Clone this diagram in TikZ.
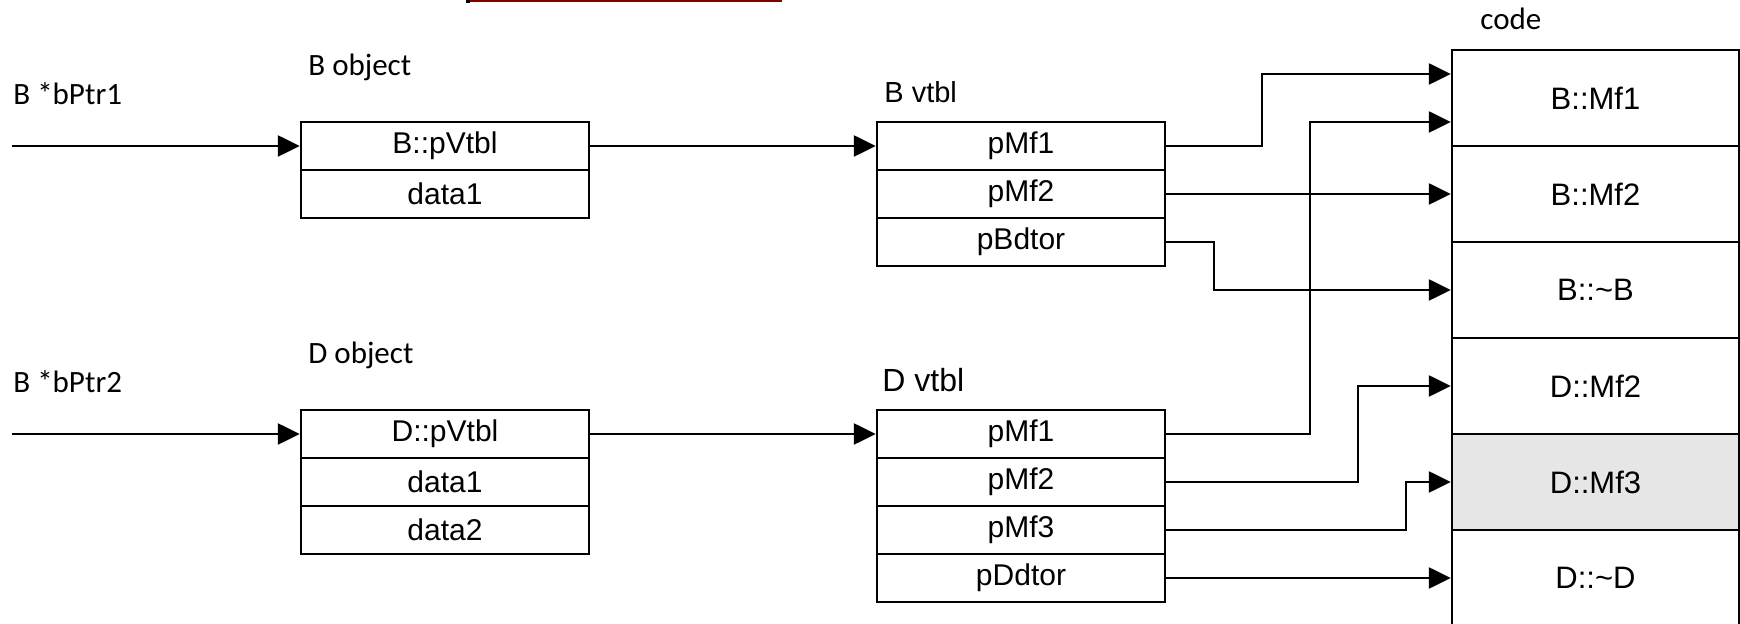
\documentclass[tikz,border=0pt]{standalone}
\usepackage{fontspec}
\setmainfont{Liberation Sans}
\newfontfamily\calfont{Carlito}
\usetikzlibrary{arrows.meta,calc}
\definecolor{darkred}{RGB}{128,0,0}
\definecolor{cellgrey}{RGB}{230,230,230}
\begin{document}
\begin{tikzpicture}[x=0.5pt,y=-0.5pt,
  cell/.style={draw, line width=1.2pt, minimum width=144pt, minimum height=24pt, inner sep=0pt, font=\fontsize{15}{17}\selectfont},
  codecell/.style={cell, minimum height=48pt, minimum width=143.5pt, font=\fontsize{15.5}{17}\selectfont},
  lbl/.style={anchor=base west, inner sep=0pt, font=\calfont\fontsize{15.5}{18}\selectfont},
  vlbl/.style={anchor=base west, inner sep=0pt},
  arr/.style={line width=1.2pt, -{Triangle[length=11pt,width=10.5pt]}},
  conn/.style={line width=1.2pt}]
\clip (0,0) rectangle (1740,624);
\fill[white] (0,0) rectangle (1740,624);
% cropped bar at the top
\draw[line width=1.5pt, darkred] (468,1) -- (782,1);
\fill[black] (466,0) rectangle (470,3);

% labels
\node[lbl] (lp1) at (13,105) {B *bPtr1};
\node[lbl] (lp2) at (13,393) {B *bPtr2};
\node[lbl] (lbo) at (308,76) {B object};
\node[lbl] (ldo) at (308,364) {D object};
\node[vlbl, font=\fontsize{14.5}{16}\selectfont] (lbv) at (884,103) {B vtbl};
\node[vlbl, font=\fontsize{16}{18}\selectfont] (ldv) at (882,392) {D vtbl};
\node[lbl, font=\calfont\fontsize{15.5}{18}\selectfont] (lcode) at (1480,30) {code};

% B object
\node[cell] (bo1) at (445,146) {B::pVtbl};
\node[cell] (bo2) at (445,194) {data1};
% D object
\node[cell] (do1) at (445,434) {D::pVtbl};
\node[cell] (do2) at (445,482) {data1};
\node[cell] (do3) at (445,530) {data2};
% B vtbl
\node[cell] (bv1) at (1021,146) {pMf1};
\node[cell] (bv2) at (1021,194) {pMf2};
\node[cell] (bv3) at (1021,242) {pBdtor};
% D vtbl
\node[cell] (dv1) at (1021,434) {pMf1};
\node[cell] (dv2) at (1021,482) {pMf2};
\node[cell] (dv3) at (1021,530) {pMf3};
\node[cell] (dv4) at (1021,578) {pDdtor};
% code
\node[codecell] (c1) at (1595.5,98) {B::Mf1};
\node[codecell] (c2) at (1595.5,194) {B::Mf2};
\node[codecell] (c3) at (1595.5,290) {B::\textasciitilde B};
\node[codecell] (c4) at (1595.5,386) {D::Mf2};
\node[codecell, fill=cellgrey] (c5) at (1595.5,482) {D::Mf3};
\node[codecell] (c6) at (1595.5,578) {D::\textasciitilde D};

\coordinate (c1a) at ($(c1.west)+(0,-24)$);
\coordinate (c1b) at ($(c1.west)+(0,24)$);
\coordinate (s1) at ($(lp1.base west)+(-1,41)$);
\coordinate (s2) at ($(lp2.base west)+(-1,41)$);

% pointers
\draw[arr] (s1) -- (bo1.west);
\draw[arr] (s2) -- (do1.west);
\draw[arr] (bo1.east) -- (bv1.west);
\draw[arr] (do1.east) -- (dv1.west);

% vtbl entries to code
\draw[arr] (bv1.east) -- ++(96,0) |- (c1a);
\draw[arr] (bv2.east) -- (c2.west);
\draw[arr] (bv3.east) -- ++(48,0) |- (c3.west);
\draw[arr] (dv1.east) -- ++(144,0) |- (c1b);
\draw[arr] (dv2.east) -- ++(192,0) |- (c4.west);
\draw[arr] (dv3.east) -- ++(240,0) |- (c5.west);
\draw[arr] (dv4.east) -- (c6.west);
\end{tikzpicture}
\end{document}
